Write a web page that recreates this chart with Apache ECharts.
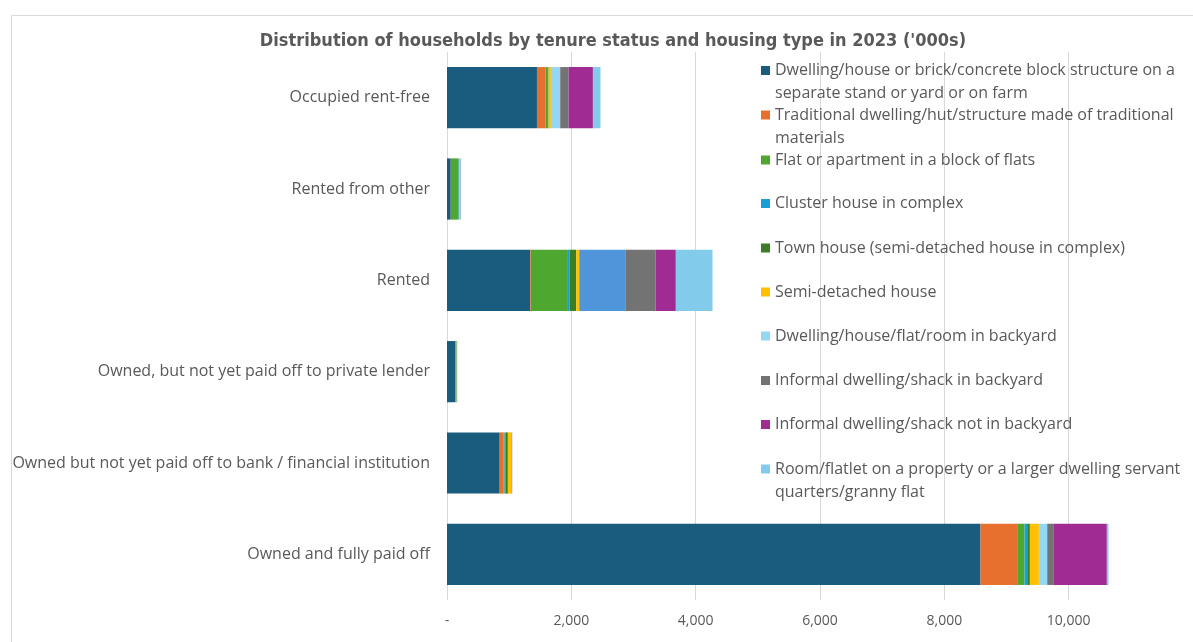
<!DOCTYPE html>
<html>
<head>
<meta charset="utf-8">
<script src="https://cdn.jsdelivr.net/npm/echarts@6/dist/echarts.min.js"></script>
<style>
html,body{margin:0;padding:0;background:#fff;}
#chart{width:1193px;height:642px;}
</style>
</head>
<body>
<div id="chart"></div>
<script>
// ---- data (values in '000s households) ----
const categories = [
  'Occupied rent-free',
  'Rented from other',
  'Rented',
  'Owned, but not yet paid off to private lender',
  'Owned but not yet paid off to bank / financial institution',
  'Owned and fully paid off'
];
const seriesNames = [
  'Dwelling/house or brick/concrete block structure on a separate stand or yard or on farm',
  'Traditional dwelling/hut/structure made of traditional materials',
  'Flat or apartment in a block of flats',
  'Cluster house in complex',
  'Town house (semi-detached house in complex)',
  'Semi-detached house',
  'Dwelling/house/flat/room in backyard',
  'Informal dwelling/shack in backyard',
  'Informal dwelling/shack not in backyard',
  'Room/flatlet on a property or a larger dwelling servant quarters/granny flat'
];
const dwellingHouse   = [1447,  60, 1340, 134, 848, 8582];
const traditional     = [ 140,   2,   10,   2,  64,  590];
const flat            = [  37, 125,  595,  16,  15,  118];
const clusterHouse    = [   5,   8,   27,   2,  12,   43];
const townHouse       = [   5,   5,  107,   3,  40,   43];
const semiDetached    = [  37,   3,   48,   2,  55,  145];
const backyardDwelling= [ 150,   8,  750,   2,   5,  134];
const informalBackyard= [ 134,   3,  477,   1,   3,  107];
const informalOther   = [ 392,   3,  327,   1,   5,  852];
const roomFlatlet     = [ 122,  10,  590,   1,   3,   27];
const xTicks = [0, 2000, 4000, 6000, 8000, 10000, 12000];

// ---- styling ----
const colors = ['#195C7D','#E8702F','#4EA72E','#1A9ED6','#3B7D23','#FFC000','#94D7F5','#737373','#A02B93','#83CBEB'];
const rentedBackyardColor = '#4E95D9';
const legendLines = [
  ['Dwelling/house or brick/concrete block structure on a','separate stand or yard or on farm'],
  ['Traditional dwelling/hut/structure made of traditional','materials'],
  ['Flat or apartment in a block of flats'],
  ['Cluster house in complex'],
  ['Town house (semi-detached house in complex)'],
  ['Semi-detached house'],
  ['Dwelling/house/flat/room in backyard'],
  ['Informal dwelling/shack in backyard'],
  ['Informal dwelling/shack not in backyard'],
  ['Room/flatlet on a property or a larger dwelling servant','quarters/granny flat']
];
const legendMarkerCenters = [70.5, 115, 160, 203.5, 248, 292, 336, 380.5, 424.5, 469];
const FONT = '"Open Sans", Lato, sans-serif';
const TEXT = '#595959';
const LH = 23;

const allValues = [dwellingHouse, traditional, flat, clusterHouse, townHouse, semiDetached,
  backyardDwelling, informalBackyard, informalOther, roomFlatlet];

const series = allValues.map((vals, i) => ({
  name: seriesNames[i],
  type: 'bar',
  stack: 'total',
  barCategoryGap: '33%',
  itemStyle: { color: colors[i] },
  data: vals.map((v, j) => (i === 6 && categories[j] === 'Rented')
    ? { value: v, itemStyle: { color: rentedBackyardColor } }
    : v)
}));

const legends = seriesNames.map((name, i) => {
  const two = legendLines[i].length > 1;
  const c = legendMarkerCenters[i];
  return {
    show: true,
    left: 761,
    top: two ? c - LH * 1.5 : c - LH / 2,
    orient: 'vertical',
    padding: 0,
    itemWidth: 9,
    itemHeight: 9,
    itemGap: 0,
    icon: 'rect',
    selectedMode: false,
    textStyle: { fontFamily: FONT, fontSize: 16, color: TEXT, lineHeight: LH },
    // two-line labels get a blank first line so the marker sits beside line one
    formatter: () => two ? ' \n' + legendLines[i].join('\n') : legendLines[i][0],
    data: [name]
  };
});

const chart = echarts.init(document.getElementById('chart'), null, { renderer: 'canvas' });
chart.setOption({
  animation: false,
  backgroundColor: '#ffffff',
  title: {
    text: "Distribution of households by tenure status and housing type in 2023 ('000s)",
    left: 608,
    textAlign: 'center',
    top: 27,
    textStyle: { fontFamily: '"Liberation Sans Narrow", "DejaVu Sans Condensed", Roboto, sans-serif', fontSize: 18, fontWeight: 'bold', color: TEXT }
  },
  graphic: [{
    type: 'rect', z: -10, silent: true,
    shape: { x: 11.5, y: 15.5, width: 1300, height: 700 },
    style: { fill: 'none', stroke: '#d9d9d9', lineWidth: 1 }
  }],
  legend: legends,
  grid: { left: 447, right: 0, top: 52, bottom: 42, containLabel: false, outerBoundsMode: 'none' },
  xAxis: {
    type: 'value',
    min: xTicks[0],
    max: xTicks[xTicks.length - 1],
    interval: xTicks[1] - xTicks[0],
    axisLine: { show: false },
    axisTick: { show: false },
    splitLine: { show: true, lineStyle: { color: '#d9d9d9', width: 1 } },
    axisLabel: {
      margin: 14,
      showMaxLabel: false,
      fontFamily: FONT, fontSize: 14, color: TEXT,
      formatter: v => v === 0 ? '-' : v.toLocaleString('en-US')
    }
  },
  yAxis: {
    type: 'category',
    inverse: true,
    data: categories,
    axisLine: { show: false },
    axisTick: { show: false },
    axisLabel: { margin: 17, fontFamily: FONT, fontSize: 16, color: TEXT }
  },
  series: series
});
</script>
</body>
</html>
